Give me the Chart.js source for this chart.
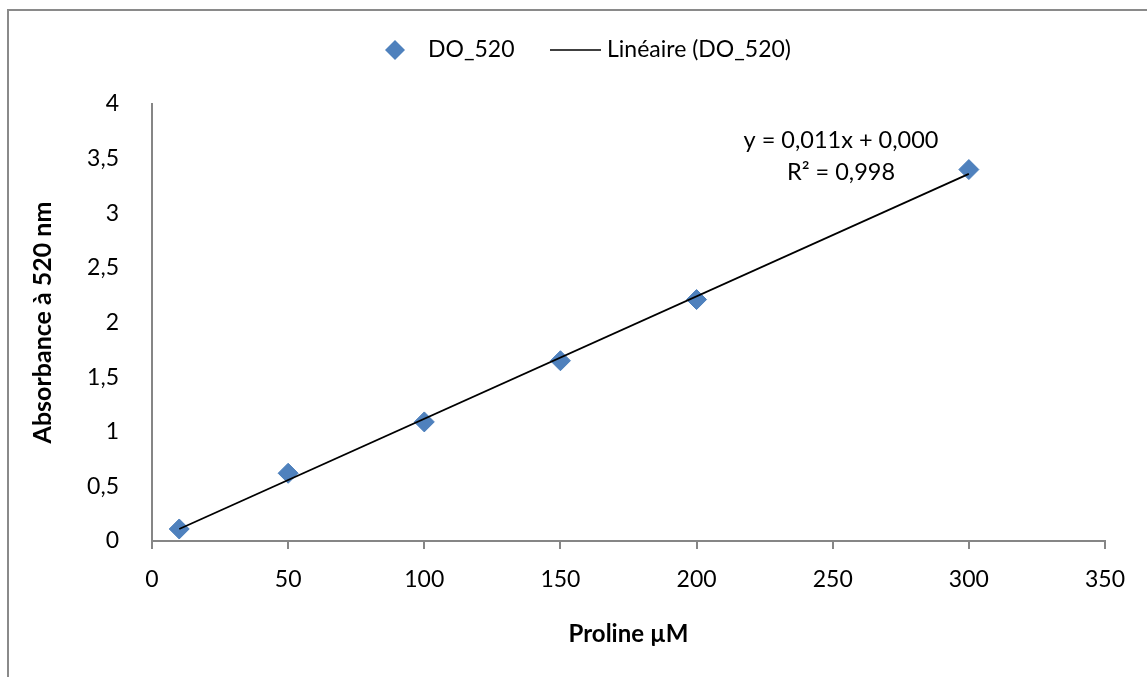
<!DOCTYPE html>
<html>
<head>
<meta charset="utf-8">
<script src="https://cdn.jsdelivr.net/npm/chart.js@4/dist/chart.umd.min.js"></script>
<style>
  html, body { margin: 0; padding: 0; background: #ffffff; overflow: hidden; }
  #wrap { position: relative; width: 1147px; height: 677px; overflow: hidden; }
  #frame { position: absolute; left: 7px; top: 9px; width: 2000px; height: 2000px; border: 2px solid #8a8a8a; box-sizing: border-box; }
  canvas { position: absolute; left: 0; top: 0; }
</style>
</head>
<body>
<div id="wrap">
  <div id="frame"></div>
  <canvas id="c" width="1147" height="677"></canvas>
</div>
<script>
// Data
const prolineUM = [10, 50, 100, 150, 200, 300];
const absorbance = [0.11, 0.62, 1.09, 1.65, 2.21, 3.40];
const trendX = [10, 300];
const trendY = [0.11, 3.36];
const seriesName = 'DO_520';
const trendName = 'Linéaire (DO_520)';
const equationLines = ['y = 0,011x + 0,000', 'R² = 0,998'];
const xTitle = 'Proline µM';
const yTitle = 'Absorbance à 520 nm';

const FONT = 'Lato, "Open Sans", sans-serif';
const AXIS = '#868686';
const BLUE = '#4F81BD';

const pointData = prolineUM.map((x, i) => ({x: x, y: absorbance[i]}));
const trendData = trendX.map((x, i) => ({x: x, y: trendY[i]}));

const overlay = {
  id: 'overlay',
  afterDraw(chart) {
    const ctx = chart.ctx;
    ctx.save();
    // Legend
    const ly = 50;
    ctx.fillStyle = BLUE;
    ctx.beginPath();
    ctx.moveTo(395, ly - 10);
    ctx.lineTo(405, ly);
    ctx.lineTo(395, ly + 10);
    ctx.lineTo(385, ly);
    ctx.closePath();
    ctx.fill();
    ctx.font = '23px ' + FONT;
    ctx.fillStyle = '#000';
    ctx.textBaseline = 'middle';
    ctx.textAlign = 'left';
    ctx.fillText(seriesName, 428, ly);
    ctx.strokeStyle = '#000';
    ctx.lineWidth = 1.5;
    ctx.beginPath();
    ctx.moveTo(550, ly);
    ctx.lineTo(601, ly);
    ctx.stroke();
    ctx.fillText(trendName, 607, ly);
    // Equation label
    ctx.font = '23.5px ' + FONT;
    ctx.textAlign = 'center';
    ctx.fillText(equationLines[0], 841, 140);
    ctx.fillText(equationLines[1], 841, 172);
    ctx.restore();
  }
};

const fmt = v => String(v).replace('.', ',');

new Chart(document.getElementById('c'), {
  type: 'scatter',
  data: {
    datasets: [
      {
        label: seriesName,
        data: pointData,
        pointStyle: 'rectRot',
        pointRadius: 10,
        pointHoverRadius: 10,
        backgroundColor: BLUE,
        borderColor: '#4A7EBB',
        borderWidth: 1,
        order: 2
      },
      {
        label: trendName,
        type: 'line',
        data: trendData,
        borderColor: '#000000',
        borderWidth: 1.8,
        pointRadius: 0,
        fill: false,
        order: 1
      }
    ]
  },
  options: {
    responsive: false,
    animation: false,
    events: [],
    layout: { padding: { left: 0, top: 104, right: 42, bottom: 0 } },
    plugins: {
      legend: { display: false },
      tooltip: { enabled: false }
    },
    scales: {
      x: {
        type: 'linear',
        min: 0, max: 350,
        afterFit(s) { s.height = 136; },
        grid: { display: true, drawOnChartArea: false, drawTicks: true, tickLength: 8, color: AXIS, lineWidth: 2 },
        border: { display: true, color: AXIS, width: 2 },
        ticks: { stepSize: 50, padding: 17, color: '#000', font: { family: FONT, size: 23 }, maxRotation: 0, callback: v => fmt(v) },
        title: { display: true, text: xTitle, color: '#000', font: { family: FONT, size: 24, weight: 'bold' }, padding: { top: 0, bottom: 28 } }
      },
      y: {
        type: 'linear',
        min: 0, max: 4,
        afterFit(s) { s.width = 152; },
        grid: { display: false },
        border: { display: true, color: AXIS, width: 2 },
        ticks: { stepSize: 0.5, padding: 25, color: '#000', font: { family: FONT, size: 23 }, callback: v => fmt(v) },
        title: { display: true, text: yTitle, color: '#000', font: { family: FONT, size: 25, weight: 'bold' }, padding: { top: 28, bottom: 0 } }
      }
    }
  },
  plugins: [overlay]
});
</script>
</body>
</html>
